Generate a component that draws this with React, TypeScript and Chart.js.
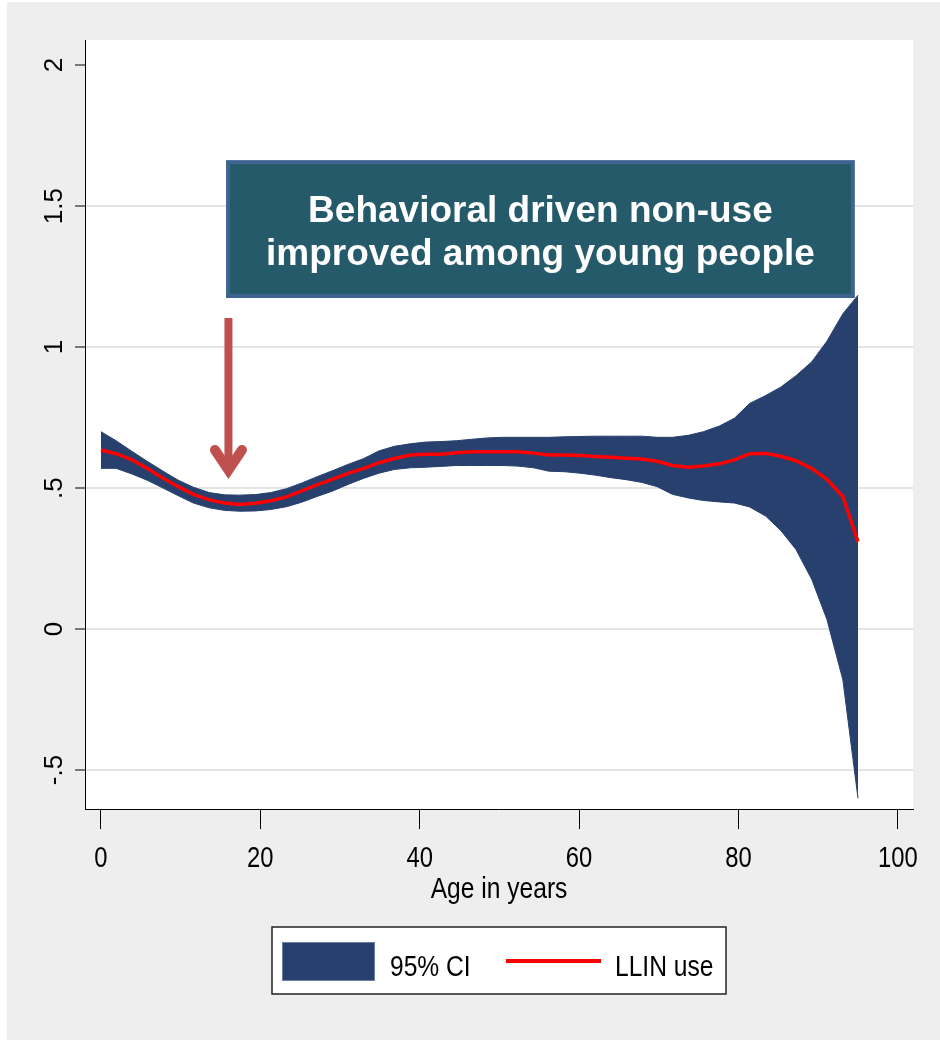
import React, { useEffect, useRef } from "react";
import { Chart, registerables } from "chart.js";

Chart.register(...registerables);

// ---- data ----
const ages = [
  0, 1.9, 3.9, 5.8, 7.8, 9.7, 11.6, 13.6, 15.5, 17.4,
  19.4, 21.3, 23.3, 25.2, 27.1, 29.1, 31.0, 33.0, 34.9, 36.8,
  38.8, 40.7, 42.7, 44.6, 46.5, 48.5, 50.4, 52.3, 54.3, 56.2,
  58.2, 60.1, 62.0, 64.0, 65.9, 67.9, 69.8, 71.7, 73.7, 75.6,
  77.6, 79.5, 81.4, 83.4, 85.3, 87.2, 89.2, 91.1, 93.1, 95.0,
];
const llinUse = [
  0.635, 0.622, 0.600, 0.570, 0.535, 0.505, 0.478, 0.458, 0.447, 0.442,
  0.446, 0.455, 0.469, 0.490, 0.511, 0.532, 0.552, 0.570, 0.590, 0.605,
  0.617, 0.620, 0.620, 0.625, 0.629, 0.629, 0.629, 0.629, 0.624, 0.617,
  0.617, 0.616, 0.612, 0.609, 0.606, 0.603, 0.595, 0.580, 0.574, 0.578,
  0.586, 0.600, 0.622, 0.623, 0.613, 0.597, 0.569, 0.531, 0.470, 0.310,
];
const ciUpper = [
  0.700, 0.668, 0.630, 0.595, 0.560, 0.528, 0.503, 0.484, 0.476, 0.475,
  0.477, 0.484, 0.498, 0.518, 0.540, 0.562, 0.584, 0.605, 0.632, 0.648,
  0.657, 0.663, 0.665, 0.668, 0.673, 0.678, 0.680, 0.680, 0.680, 0.680,
  0.682, 0.683, 0.684, 0.684, 0.684, 0.684, 0.680, 0.680, 0.687, 0.700,
  0.720, 0.748, 0.800, 0.828, 0.858, 0.898, 0.948, 1.021, 1.118, 1.184,
];
const ciLower = [
  0.570, 0.570, 0.550, 0.528, 0.500, 0.473, 0.447, 0.430, 0.421, 0.418,
  0.419, 0.424, 0.434, 0.450, 0.470, 0.490, 0.513, 0.535, 0.553, 0.566,
  0.572, 0.574, 0.577, 0.580, 0.580, 0.580, 0.580, 0.578, 0.572, 0.560,
  0.558, 0.553, 0.546, 0.537, 0.530, 0.520, 0.505, 0.478, 0.465, 0.456,
  0.451, 0.447, 0.433, 0.401, 0.350, 0.283, 0.176, 0.034, -0.180, -0.600,
];
const xTickValues = [0, 20, 40, 60, 80, 100];
const xTickLabels = ["0", "20", "40", "60", "80", "100"];
const yTickValues = [-0.5, 0, 0.5, 1, 1.5, 2];
const yTickLabels = ["-.5", "0", ".5", "1", "1.5", "2"];
const xAxisTitle = "Age in years";
const legendLabels = ["95% CI", "LLIN use"];
const annotationLines = ["Behavioral driven non-use", "improved among young people"];

// ---- styling ----
const SANS = "'Liberation Sans', Arial, sans-serif";
const NAVY = "#27406e";
const RED = "#ff0000";
const CONDENSE = 0.82;

function narrowText(ctx: any, text: string, x: number, y: number, size: number, align: string) {
  ctx.save();
  ctx.translate(x, y);
  ctx.scale(CONDENSE, 1);
  ctx.font = `${size}px ${SANS}`;
  ctx.fillStyle = "#000000";
  ctx.textAlign = align;
  ctx.textBaseline = "alphabetic";
  ctx.fillText(text, 0, 0);
  ctx.restore();
}

const decor = {
  id: "decor",
  beforeDraw(chart: any) {
    const { ctx, chartArea: a } = chart;
    ctx.save();
    ctx.fillStyle = "#ffffff";
    ctx.fillRect(a.left, a.top, a.right - a.left, a.bottom - a.top);
    ctx.restore();
  },
  afterDatasetsDraw(chart: any) {
    const { ctx } = chart;
    const xs = chart.scales.x;
    const ys = chart.scales.y;
    // annotation box
    const bx0 = xs.getPixelForValue(15.7);
    const bx1 = xs.getPixelForValue(94.6);
    const by0 = ys.getPixelForValue(1.663);
    const by1 = ys.getPixelForValue(1.174);
    ctx.save();
    ctx.fillStyle = "#3f6391";
    ctx.fillRect(bx0, by0, bx1 - bx0, by1 - by0);
    ctx.fillStyle = "#245a69";
    ctx.fillRect(bx0 + 4, by0 + 4, bx1 - bx0 - 8, by1 - by0 - 8);
    ctx.fillStyle = "#ffffff";
    ctx.font = `bold 37px ${SANS}`;
    ctx.textAlign = "center";
    ctx.textBaseline = "alphabetic";
    const cx = (bx0 + bx1) / 2;
    ctx.fillText(annotationLines[0], cx, by0 + 62);
    ctx.fillText(annotationLines[1], cx, by0 + 105);

    // arrow
    const ax = xs.getPixelForValue(16.0);
    const aTop = ys.getPixelForValue(1.103);
    const aTip = ys.getPixelForValue(0.536);
    const vtx = aTip - 8;
    ctx.strokeStyle = "#c0504d";
    ctx.lineWidth = 8;
    ctx.lineCap = "butt";
    ctx.beginPath();
    ctx.moveTo(ax, aTop);
    ctx.lineTo(ax, vtx);
    ctx.stroke();
    ctx.lineWidth = 10;
    ctx.lineCap = "round";
    ctx.lineJoin = "miter";
    ctx.miterLimit = 10;
    ctx.beginPath();
    ctx.moveTo(ax - 13.5, vtx - 20);
    ctx.lineTo(ax, vtx);
    ctx.lineTo(ax + 13.5, vtx - 20);
    ctx.stroke();
    ctx.restore();
  },
  afterDraw(chart: any) {
    const { ctx, chartArea: a } = chart;
    const xs = chart.scales.x;
    // x tick labels and axis title (condensed face)
    xTickValues.forEach((v, i) => {
      narrowText(ctx, xTickLabels[i], xs.getPixelForValue(v), a.bottom + 57.5, 29, "center");
    });
    narrowText(ctx, xAxisTitle, (a.left + a.right) / 2, a.bottom + 89, 30, "center");

    // legend
    const cx = (a.left + a.right) / 2;
    const lx = Math.round(cx - 227);
    const ly = 925;
    ctx.save();
    ctx.fillStyle = "#ffffff";
    ctx.fillRect(lx, ly, 454, 67);
    ctx.strokeStyle = "#222222";
    ctx.lineWidth = 1.5;
    ctx.strokeRect(lx, ly, 454, 67);
    ctx.fillStyle = NAVY;
    ctx.fillRect(lx + 10, ly + 15, 93, 39);
    ctx.strokeStyle = "#6d7fa3";
    ctx.lineWidth = 1;
    ctx.strokeRect(lx + 10.5, ly + 15.5, 92, 38);
    ctx.strokeStyle = RED;
    ctx.lineWidth = 4;
    ctx.beginPath();
    ctx.moveTo(lx + 234, ly + 34);
    ctx.lineTo(lx + 329, ly + 34);
    ctx.stroke();
    ctx.restore();
    narrowText(ctx, legendLabels[0], lx + 118, ly + 49, 30, "left");
    narrowText(ctx, legendLabels[1], lx + 343, ly + 49, 30, "left");
  },
};

export default function App() {
  const canvasRef = useRef<HTMLCanvasElement | null>(null);

  useEffect(() => {
    const canvas = canvasRef.current;
    if (!canvas) return;
    const chart = new Chart(canvas, {
      type: "line",
      data: {
        datasets: [
          {
            label: legendLabels[1],
            data: ages.map((a, i) => ({ x: a, y: llinUse[i] })),
            borderColor: RED,
            borderWidth: 3.5,
            pointRadius: 0,
            fill: false,
            order: 0,
            tension: 0,
          },
          {
            label: "ci upper",
            data: ages.map((a, i) => ({ x: a, y: ciUpper[i] })),
            borderColor: NAVY,
            backgroundColor: NAVY,
            borderWidth: 1,
            pointRadius: 0,
            fill: "+1",
            order: 1,
          },
          {
            label: "ci lower",
            data: ages.map((a, i) => ({ x: a, y: ciLower[i] })),
            borderColor: NAVY,
            backgroundColor: NAVY,
            borderWidth: 1,
            pointRadius: 0,
            fill: false,
            order: 2,
          },
        ],
      },
      options: {
        responsive: false,
        animation: false,
        devicePixelRatio: 1,
        layout: { padding: { left: 0, top: 38, right: 27, bottom: 131 } },
        plugins: {
          legend: { display: false },
          tooltip: { enabled: false },
        },
        scales: {
          x: {
            type: "linear",
            min: -2,
            max: 101.9,
            afterFit: (s: any) => {
              s.height = 100;
            },
            afterBuildTicks: (s: any) => {
              s.ticks = xTickValues.map((v) => ({ value: v }));
            },
            grid: {
              drawOnChartArea: false,
              tickColor: "#000",
              tickLength: 20,
              tickWidth: 1,
            },
            border: { display: true, color: "#000", width: 1 },
            ticks: { display: false, autoSkip: false, maxRotation: 0 },
            title: { display: false },
          },
          y: {
            type: "linear",
            min: -0.638,
            max: 2.089,
            afterFit: (s: any) => {
              s.width = 78;
            },
            afterBuildTicks: (s: any) => {
              s.ticks = yTickValues.map((v) => ({ value: v }));
            },
            grid: {
              color: (c: any) =>
                c.tick && c.tick.value === 2 ? "rgba(0,0,0,0)" : "#e4e4e4",
              lineWidth: 2,
              tickColor: "#000",
              tickLength: 10,
              tickWidth: 1,
            },
            border: { display: true, color: "#000", width: 1 },
            ticks: {
              font: { family: SANS, size: 26 },
              color: "#000",
              padding: 2,
              minRotation: 90,
              maxRotation: 90,
              crossAlign: "center",
              autoSkip: false,
              callback: (v: any) => {
                const i = yTickValues.indexOf(Number(v));
                return i >= 0 ? yTickLabels[i] : "";
              },
            },
          },
        },
      },
      plugins: [decor],
    } as any);
    return () => chart.destroy();
  }, []);

  return (
    <div
      style={{
        position: "absolute",
        left: 7,
        top: 2,
        width: 933,
        height: 1038,
        background: "#eeeeee",
      }}
    >
      <canvas ref={canvasRef} width={933} height={1038} style={{ display: "block" }} />
    </div>
  );
}
